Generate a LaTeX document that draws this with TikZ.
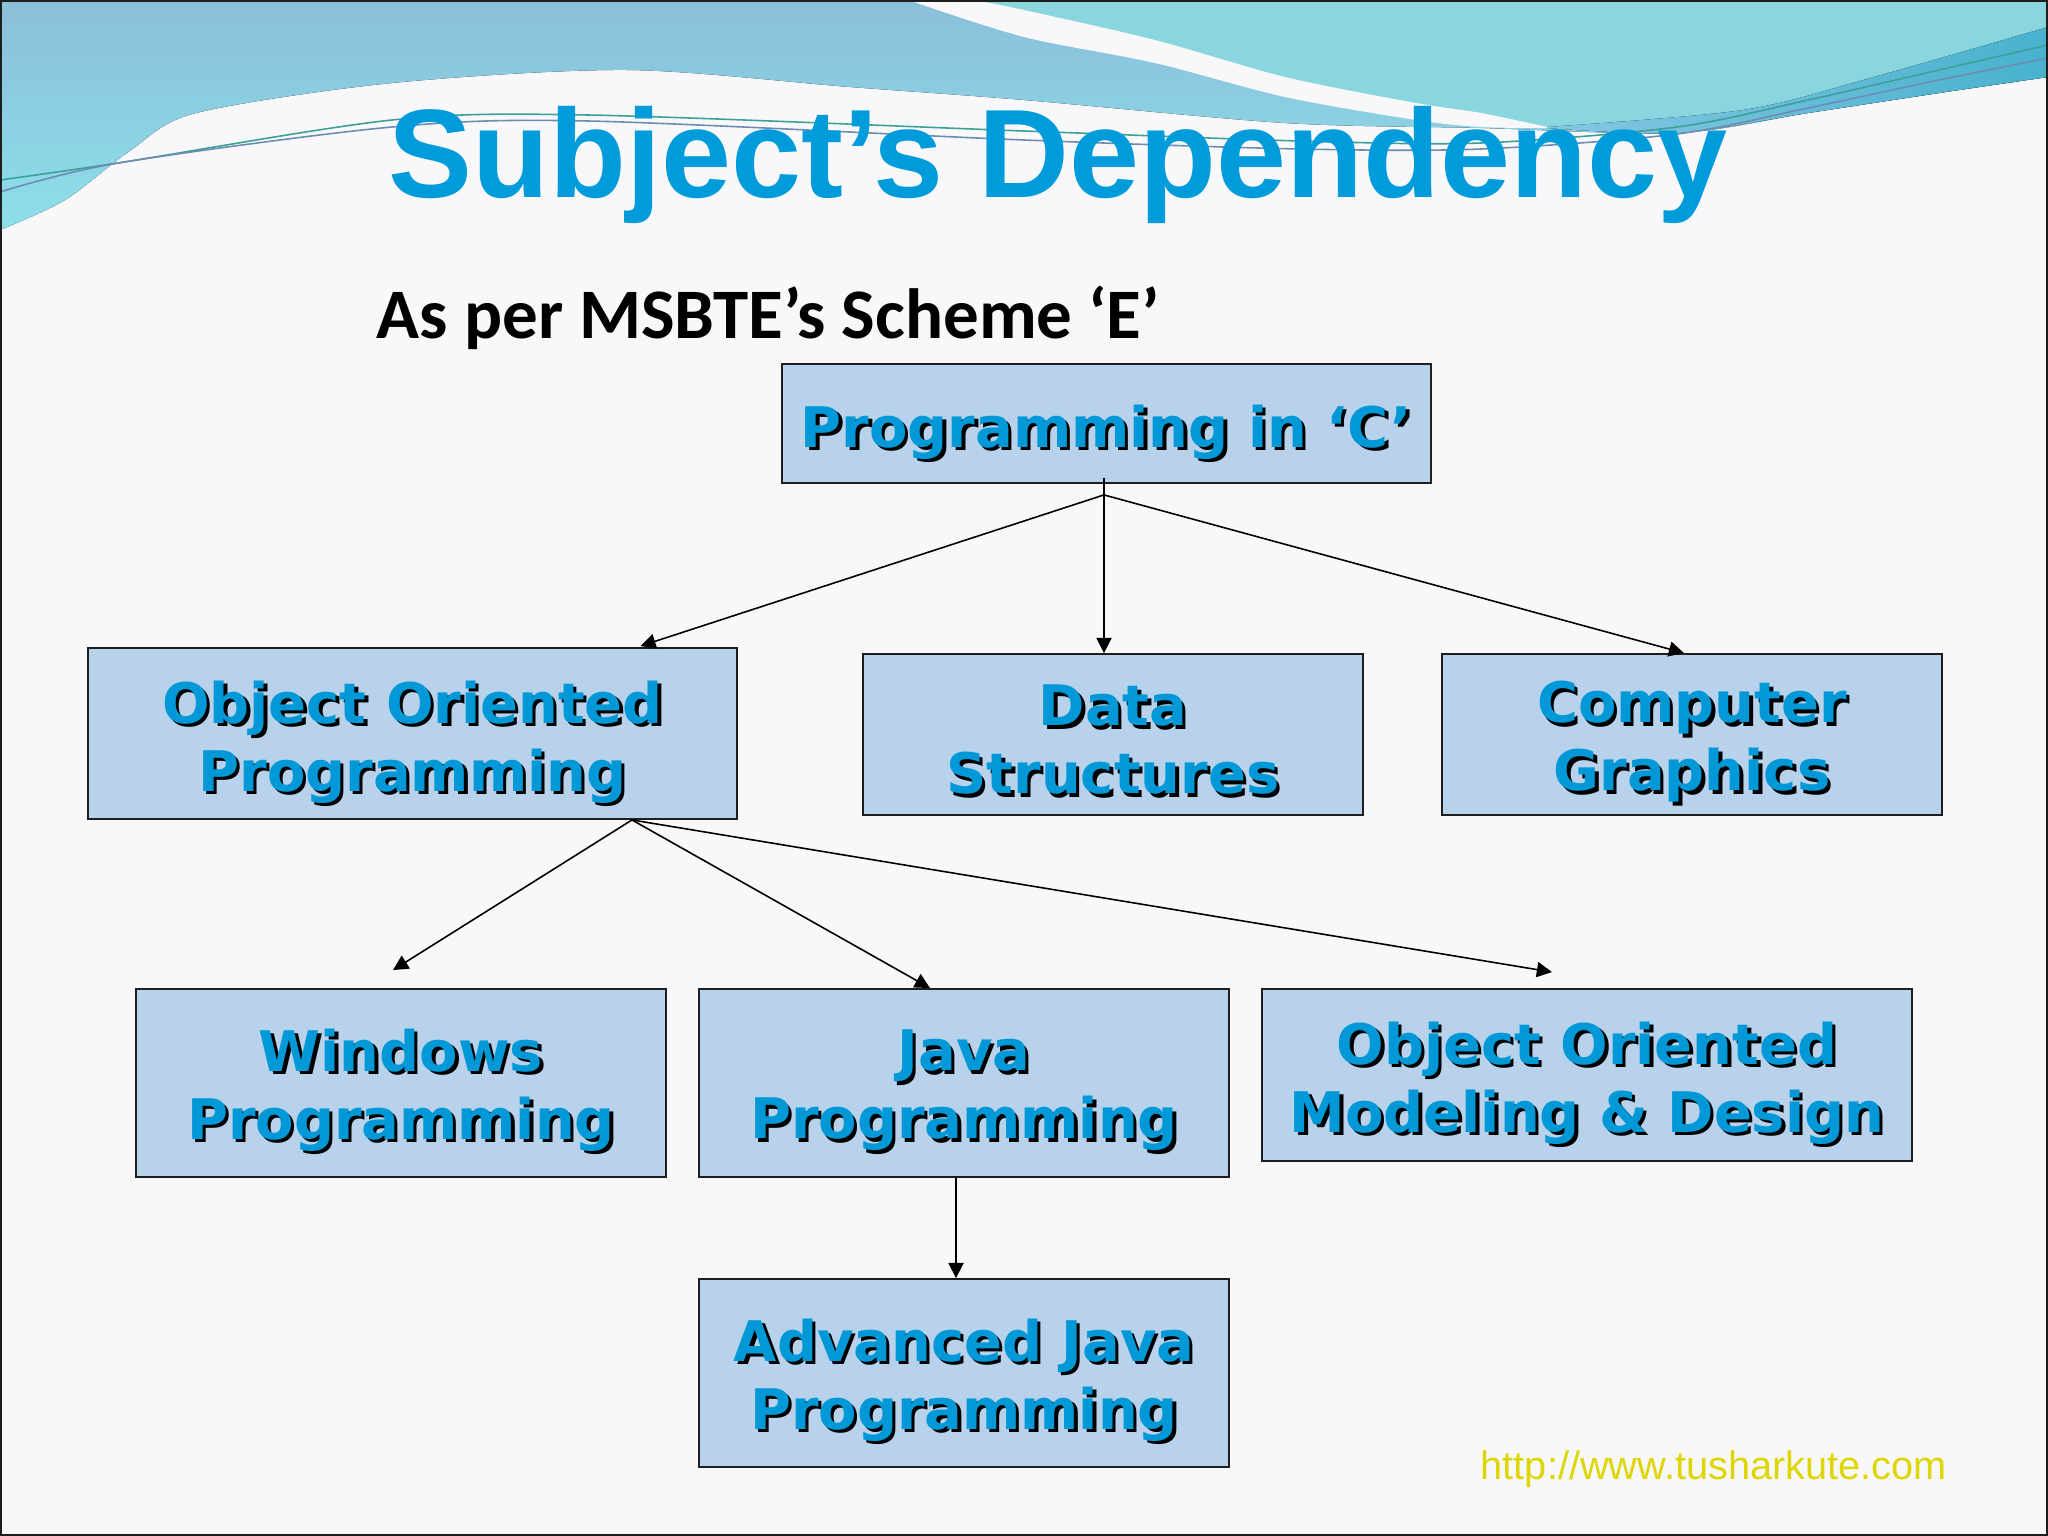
\documentclass[tikz,border=0pt]{standalone}
\usepackage{fontspec}
\setmainfont{DejaVu Sans}
\newfontfamily\titlefont{Liberation Sans}
\newfontfamily\subfont{Carlito}
\newfontfamily\boxfont{DejaVu Sans}
\usetikzlibrary{arrows.meta,calc}
\definecolor{bg}{RGB}{248,248,251}
\definecolor{bluereg}{RGB}{139,190,218}
\definecolor{bluebot}{RGB}{140,224,234}
\definecolor{cyanreg}{RGB}{138,214,222}
\definecolor{wedgeL}{RGB}{132,198,226}
\definecolor{wedgeR}{RGB}{72,178,206}
\definecolor{tealline}{RGB}{60,160,150}
\definecolor{grayline}{RGB}{110,140,178}
\definecolor{titleblue}{RGB}{0,155,218}
\definecolor{textblue}{RGB}{0,152,214}
\definecolor{boxfill}{RGB}{184,210,236}
\definecolor{boxline}{RGB}{30,30,30}
\definecolor{urlyellow}{RGB}{222,214,0}
\newcommand\shd[1]{\leavevmode\rlap{\kern0.95pt\lower0.95pt\hbox{\color{black}#1}}#1}
\tikzset{
  box/.style={draw=boxline, fill=boxfill, line width=0.5pt, inner sep=0pt, rectangle},
  btxt/.style={font=\boxfont\bfseries\fontsize{15.9}{19.35}\selectfont, text=textblue, align=center, inner sep=0pt},
  conn/.style={draw=black, line width=0.45pt, -{Triangle[length=4.3pt,width=4.3pt]}},
  plain/.style={draw=black, line width=0.45pt},
}
\begin{document}
\begin{tikzpicture}[x=0.01cm,y=-0.01cm]
\useasboundingbox (0,0) rectangle (2048,1536);
\fill[bg] (0,0) rectangle (2048,1536);
% banner
\fill[top color=bluereg, bottom color=bluebot] (0,0) -- (2048,0) -- (2048,77) -- plot[smooth] coordinates {(2048,77) (1939,93) (1808,113) (1677,133) (1481,128) (1285,123) (1024,100) (850,87) (627,70) (392,83) (196,113) (131,150) (65,200) (0,230)} -- cycle;
\fill[cyanreg] (974,0) -- (2048,0) -- (2048,27) -- plot[smooth] coordinates {(2048,27) (1874,77) (1743,110) (1547,127) (1481,113) (1416,103) (1285,77) (1155,40) (1024,10) (974,0)} -- cycle;
\fill[left color=wedgeL, right color=wedgeR] plot[smooth] coordinates {(1547,127) (1743,110) (1874,77) (2048,27)} -- (2048,77) -- plot[smooth] coordinates {(2048,77) (1939,93) (1808,113) (1677,133) (1547,128)} -- cycle;
\fill[bg] plot[smooth] coordinates {(908,0) (1024,37) (1155,63) (1285,97) (1416,120) (1481,127) (1547,128)} -- plot[smooth] coordinates {(1547,127) (1481,113) (1416,103) (1285,77) (1155,40) (1024,10) (974,0)} -- cycle;
\draw[tealline, line width=0.45pt] plot[smooth] coordinates {(0,180) (118,163) (392,120) (588,115) (1024,131) (1300,141) (1481,143) (1677,127) (1808,100) (1939,70) (2048,45)};
\draw[grayline, line width=0.45pt] plot[smooth] coordinates {(0,192) (118,163) (392,127) (588,121) (1024,140) (1300,149) (1481,149) (1677,134) (1808,108) (1939,80) (2048,58)};
% titles
\node[anchor=base, inner sep=0pt, text=titleblue, font=\titlefont\bfseries\fontsize{35.8}{40}\selectfont] (title) at (1058,197) {Subject’s Dependency};
\node[anchor=base west, inner sep=0pt, text=black, font=\subfont\bfseries\fontsize{20.2}{24}\selectfont] (sub) at (376,338) {As per MSBTE’s Scheme ‘E’};
\node[anchor=base west, inner sep=0pt, text=urlyellow, font=\titlefont\fontsize{11.3}{13}\selectfont] (url) at (1480,1479) {http://www.tusharkute.com};
% boxes
\node[box, minimum width=6.49cm, minimum height=1.19cm] (c) at (1106.5,423.5) {};
\node[box, minimum width=6.49cm, minimum height=1.71cm] (oop) at (412.5,733.5) {};
\node[box, minimum width=5.00cm, minimum height=1.61cm] (ds) at (1113,734.5) {};
\node[box, minimum width=5.00cm, minimum height=1.61cm] (cg) at (1692,734.5) {};
\node[box, minimum width=5.30cm, minimum height=1.88cm] (win) at (401,1083) {};
\node[box, minimum width=5.30cm, minimum height=1.88cm] (java) at (964,1083) {};
\node[box, minimum width=6.49cm, minimum height=1.72cm] (oomd) at (1587,1075) {};
\node[box, minimum width=5.29cm, minimum height=1.88cm] (adv) at (964,1373) {};
% box texts
\node[btxt] (tc) at ($(c.center)+(0,10)$) {\shd{Programming in ‘C’}};
\node[btxt] (toop) at ($(oop.center)+(0,10)$) {\shd{Object Oriented}\\\shd{Programming}};
\node[btxt] (tds) at ($(ds.center)+(0,7)$) {\shd{Data}\\\shd{Structures}};
\node[btxt] (tcg) at ($(cg.center)+(0,9)$) {\shd{Computer}\\\shd{Graphics}};
\node[btxt] (twin) at ($(win.center)+(0,9)$) {\shd{Windows}\\\shd{Programming}};
\node[btxt] (tjava) at ($(java.center)+(0,9)$) {\shd{Java}\\\shd{Programming}};
\node[btxt] (toomd) at ($(oomd.center)+(0,10)$) {\shd{Object Oriented}\\\shd{Modeling \& Design}};
\node[btxt] (tadv) at ($(adv.center)+(0,9)$) {\shd{Advanced Java}\\\shd{Programming}};
% connectors
\coordinate (j1) at ($(c.south)+(-2.5,11)$);
\coordinate (j1top) at ($(c.south)+(-2.5,-6)$);
\draw[conn] (j1top) -- (j1 |- ds.north);
\draw[conn] (j1) -- ($(oop.north)+(228,-1)$);
\draw[conn] (j1) -- ($(cg.north)+(-8,0)$);
\coordinate (j2) at ($(oop.south)+(219.5,0)$);
\draw[conn] (j2) -- ($(win.north)+(-8,-18)$);
\draw[conn] (j2) -- ($(java.north)+(-34,0)$);
\draw[conn] (j2) -- ($(oomd.north)+(-35,-16)$);
\draw[conn] ($(java.south)+(-8,0)$) -- ($(adv.north)+(-8,0)$);
% frame
\draw[boxline, line width=0.5pt] (1,1) rectangle (2047,1535);
\end{tikzpicture}
\end{document}
